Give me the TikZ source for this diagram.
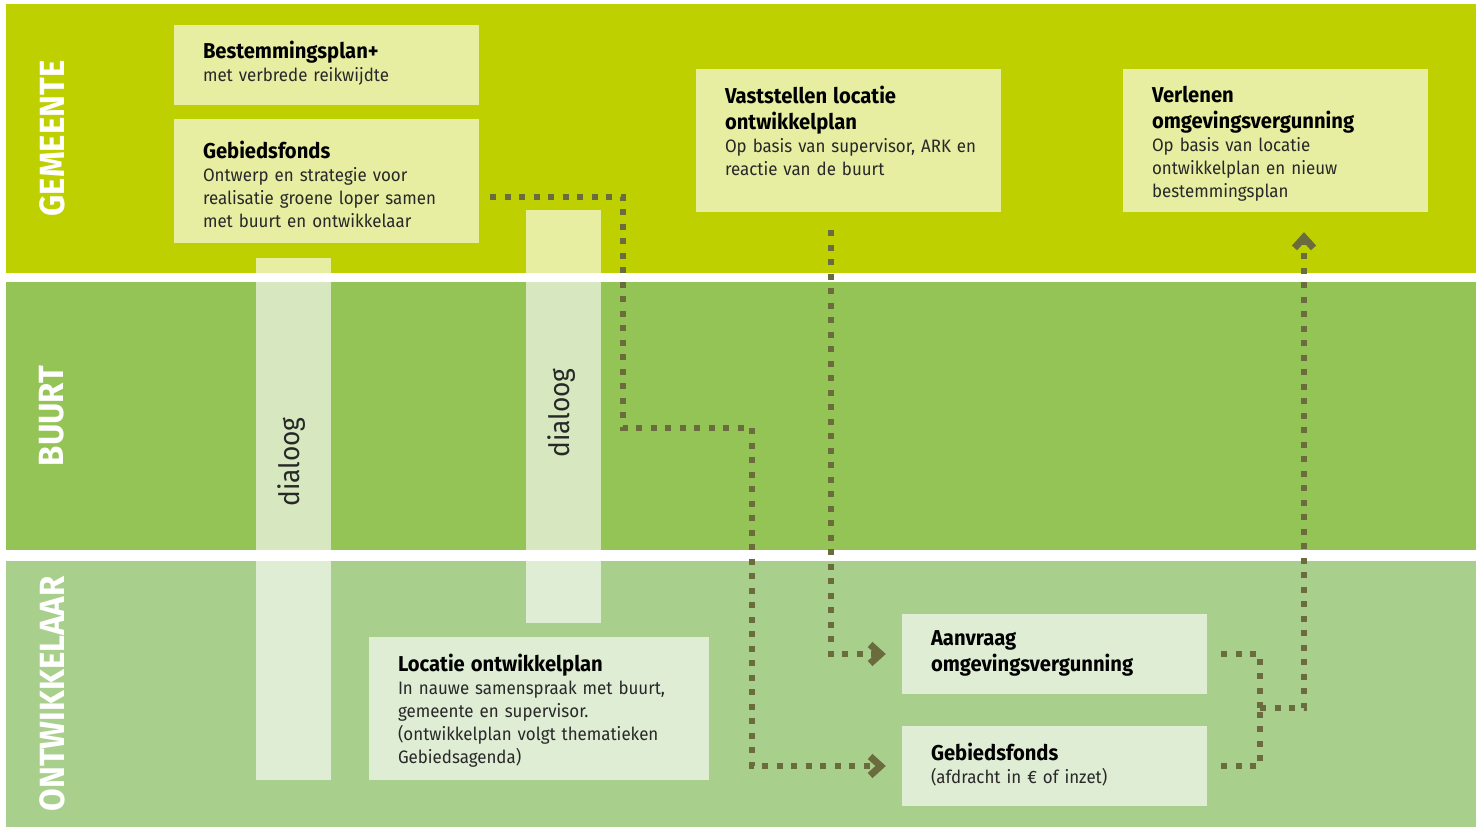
\documentclass[tikz,border=0pt]{standalone}
\usepackage{fontspec}
\setmainfont[FakeStretch=0.94]{Fira Sans}
\usetikzlibrary{arrows.meta, positioning}

\definecolor{gemgreen}{RGB}{190,208,0}
\definecolor{buurtgreen}{RGB}{148,195,86}
\definecolor{ontwgreen}{RGB}{169,207,141}
\definecolor{flowc}{RGB}{107,108,62}
\definecolor{textgray}{RGB}{40,40,40}

\newcommand{\boxtitle}[1]{{\fontsize{21.5}{26}\selectfont\bfseries\color{black}#1\par}\vspace{0.5pt}}

\begin{document}
\begin{tikzpicture}[x=1pt, y=-1pt,
		lane/.style={fill=#1, inner sep=0, minimum width=1470pt},
		lanelabel/.style={rotate=90, inner sep=0, text=white, font=\fontsize{35}{35}\selectfont\bfseries},
		stepbox/.style={fill=white, fill opacity=0.63, inner sep=0, minimum width=305pt},
		bar/.style={fill=white, fill opacity=0.63, inner sep=0, minimum width=75pt},
		txt/.style={inner sep=0, align=left, text width=290pt, text=textgray, font=\fontsize{18}{23}\selectfont},
		dia/.style={rotate=90, inner sep=0, text=textgray, font=\fontsize{28}{28}\selectfont},
		flowline/.style={draw=flowc, line width=5.5pt, dash pattern=on 6pt off 8.5pt},
		flow/.style={flowline, -{Straight Barb[length=10.5pt, width=19pt, line width=7pt]}, shorten >=16pt}
		]
		\useasboundingbox (0,0) rectangle (1482,827);
		
		% === LANES ===
		\node[lane=gemgreen, minimum height=269pt] (gem) at (741,138.5) {};
		\node[lane=buurtgreen, minimum height=268pt] (buurt) at (741,416) {};
		\node[lane=ontwgreen, minimum height=266pt] (ontw) at (741,694) {};
		
		\node[lanelabel] (gemlbl) at (52,138.5) {GEMEENTE};
		\node[lanelabel] (buurtlbl) at (52,416) {BUURT};
		\node[lanelabel] (ontwlbl) at (52,694) {ONTWIKKELAAR};
		
		% === DIALOOG BARS ===
		\node[bar, minimum height=522pt] (bar1) at (293.5,519) {};
		\node[bar, minimum height=413pt] (bar2) at (563.5,416.5) {};
		\node[dia] (dia1) at (292,462) {dialoog};
		\node[dia] (dia2) at (562,413) {dialoog};
		
		% === BOXES ===
		\node[stepbox, minimum height=80pt] (bplan) at (326.5,65) {};
		\node[stepbox, minimum height=124pt] (gfG) at (326.5,181) {};
		\node[stepbox, minimum height=143pt] (vast) at (848.5,140.5) {};
		\node[stepbox, minimum height=143pt] (verl) at (1275.5,140.5) {};
		\node[stepbox, minimum width=340pt, minimum height=143pt] (loc) at (539,708.5) {};
		\node[stepbox, minimum height=80pt] (aanv) at (1054.5,654) {};
		\node[stepbox, minimum height=80pt] (gfO) at (1054.5,766) {};
		
		% === BOX TEXTS ===
		\node[txt, below right=16pt and 29pt of bplan.north west] (bplantxt)
		{\boxtitle{Bestemmingsplan+}met verbrede reikwijdte};
		\node[txt, below right=22pt and 29pt of gfG.north west] (gfGtxt)
		{\boxtitle{Gebiedsfonds}Ontwerp en strategie voor\\realisatie groene loper samen\\met buurt en ontwikkelaar};
		\node[txt, below right=17pt and 29pt of vast.north west] (vasttxt)
		{\boxtitle{Vaststellen locatie\\ontwikkelplan}Op basis van supervisor, ARK en\\reactie van de buurt};
		\node[txt, below right=17pt and 29pt of verl.north west] (verltxt)
		{\boxtitle{Verlenen\\omgevingsvergunning}Op basis van locatie\\ontwikkelplan en nieuw\\bestemmingsplan};
		\node[txt, below right=17pt and 29pt of loc.north west] (loctxt)
		{\boxtitle{Locatie ontwikkelplan}In nauwe samenspraak met buurt,\\gemeente en supervisor.\\(ontwikkelplan volgt thematieken\\Gebiedsagenda)};
		\node[txt, below right=17pt and 29pt of aanv.north west] (aanvtxt)
		{\boxtitle{Aanvraag\\omgevingsvergunning}};
		\node[txt, below right=17pt and 29pt of gfO.north west] (gfOtxt)
		{\boxtitle{Gebiedsfonds}(afdracht in € of inzet)};
		
		% === FLOWS ===
		\draw[flow, shorten <=11pt] ([yshift=-16pt]gfG.east) -| (623,428) -| (752,766) -- (gfO.west);
		\draw[flow, shorten <=18pt] ([xshift=-17.5pt]vast.south) |- (aanv.west);
		
		\coordinate (merge) at (1260,708);
		\draw[flowline, shorten <=14pt] (aanv.east) -| (merge);
		\draw[flowline, shorten <=14pt] (gfO.east) -| (merge);
		\draw[flow, shorten >=20pt] (merge) -| ([xshift=28.5pt]verl.south);
		
	\end{tikzpicture}
\end{document}
